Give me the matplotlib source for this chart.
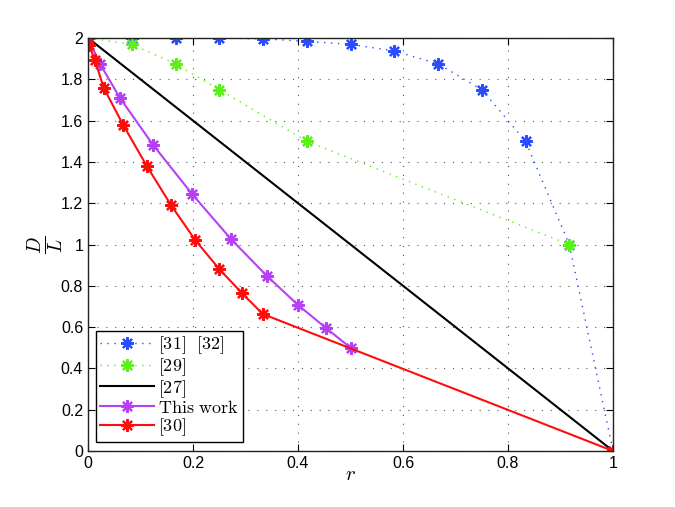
import matplotlib
matplotlib.use("Agg")
import matplotlib.pyplot as plt

plt.rcParams['mathtext.fontset'] = 'cm'
plt.rcParams['font.family'] = ['Liberation Sans', 'DejaVu Sans']

# [31] [32]
r_blue = [0, 1/12, 2/12, 3/12, 4/12, 5/12, 6/12, 7/12, 8/12, 9/12, 10/12, 11/12, 1.0]
d_blue = [2.0, 2.0, 2.0, 2.0, 1.996, 1.984, 1.969, 1.9375, 1.875, 1.75, 1.5, 1.0, 0.0]

# [29]
r_green = [0, 1/12, 2/12, 3/12, 5/12, 11/12]
d_green = [2.0, 1.969, 1.875, 1.75, 1.5, 1.0]

# [27]
r_black = [0, 1.0]
d_black = [2.0, 0.0]

# This work
r_purple = [0, 0.023, 0.061, 0.124, 0.198, 0.272, 0.341, 0.400, 0.453, 0.500]
d_purple = [2.0, 1.874, 1.709, 1.482, 1.245, 1.027, 0.847, 0.707, 0.596, 0.500]

# [30]
r_red = [0, 0.002, 0.013, 0.030, 0.067, 0.112, 0.158, 0.204, 0.250, 0.293, 0.333, 1.0]
d_red = [2.0, 1.966, 1.893, 1.758, 1.579, 1.380, 1.191, 1.022, 0.881, 0.765, 0.663, 0.0]

labels = [r'$\mathrm{[31]\ \ [32]}$', r'$\mathrm{[29]}$', r'$\mathrm{[27]}$',
          r'$\mathrm{This\ work}$', r'$\mathrm{[30]}$']

fig = plt.figure(figsize=(6.75, 5.07), dpi=100)
ax = fig.add_axes([0.1304, 0.1105, 0.7778, 0.8145])

ast = (8, 2, 0)
ms = 9
mew = 1.6
c_blue = '#2a4dff'
c_green = '#5cf01a'
c_purple = '#b441f5'
c_red = '#ff0d0d'

ax.plot(r_blue, d_blue, linestyle=(0, (1, 4)), color=c_blue, lw=1.0, marker=ast, ms=ms,
        mew=mew, mec=c_blue, label=labels[0])
ax.plot(r_green, d_green, linestyle=(0, (1, 4)), color=c_green, lw=1.0, marker=ast, ms=ms,
        mew=mew, mec=c_green, label=labels[1])
ax.plot(r_black, d_black, linestyle='-', color='black', lw=1.5, label=labels[2])
ax.plot(r_purple, d_purple, linestyle='-', color=c_purple, lw=1.5, marker=ast, ms=ms,
        mew=mew, mec=c_purple, label=labels[3])
ax.plot(r_red, d_red, linestyle='-', color=c_red, lw=1.5, marker=ast, ms=ms,
        mew=mew, mec=c_red, label=labels[4])

ax.set_xlim(0, 1)
ax.set_ylim(0, 2)
ax.set_xticks([0, 0.2, 0.4, 0.6, 0.8, 1])
ax.set_xticklabels(['0', '0.2', '0.4', '0.6', '0.8', '1'])
ax.set_yticks([0, 0.2, 0.4, 0.6, 0.8, 1, 1.2, 1.4, 1.6, 1.8, 2])
ax.set_yticklabels(['0', '0.2', '0.4', '0.6', '0.8', '1', '1.2', '1.4', '1.6', '1.8', '2'])
ax.tick_params(direction='in', top=True, right=True, labelsize=11.5, length=5, width=0.8)
ax.grid(True, linestyle=(0, (1, 7)), color='#555555', lw=0.8)
for s in ax.spines.values():
    s.set_linewidth(1.0)
    s.set_color('#222222')

ax.set_xlabel(r'$r$', fontsize=15, labelpad=-4)
ax.set_ylabel(r'$\frac{D}{L}$', fontsize=20, labelpad=-4)

leg = ax.legend(loc='lower left', bbox_to_anchor=(0.015, 0.022), borderaxespad=0,
                fontsize=13, frameon=True, fancybox=False, framealpha=1,
                edgecolor='black', handlelength=3.0, handletextpad=0.25,
                labelspacing=0.0, borderpad=0.2)
leg.get_frame().set_linewidth(1.0)

fig.savefig('out.png', dpi=100)
